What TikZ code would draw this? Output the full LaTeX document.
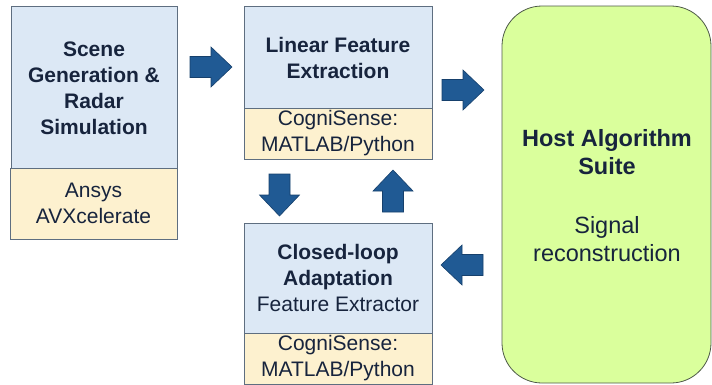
\documentclass[tikz,border=0pt]{standalone}
\usepackage{fontspec}
\setmainfont{Liberation Sans}
\definecolor{boxblue}{HTML}{DCE8F5}
\definecolor{boxbeige}{HTML}{FDF1CF}
\definecolor{boxline}{HTML}{5E6E80}
\definecolor{hostfill}{HTML}{DAFF9C}
\definecolor{hostline}{HTML}{4E5A48}
\definecolor{arrowfill}{HTML}{205A94}
\definecolor{arrowline}{HTML}{16406C}
\definecolor{ink}{HTML}{17243D}
\begin{document}
\begin{tikzpicture}[x=1pt,y=-1pt,
  base/.style={inner sep=0pt,outer sep=0pt,align=center,text=ink,
    font=\fontsize{21}{26}\selectfont,line width=0.8pt},
  bluebox/.style={base,draw=boxline,fill=boxblue},
  beigebox/.style={base,draw=boxline,fill=boxbeige},
  hostbox/.style={base,draw=hostline,fill=hostfill,rounded corners=40pt},
  txt/.style={base,draw=none,fill=none},
  blockarrow/.style={fill=arrowfill,draw=arrowline,line width=0.6pt}]
\useasboundingbox (0,0) rectangle (712,384);

% block arrow, pointing right, starting at the origin of the scope
\newcommand{\blockarr}[3]{%
  \begin{scope}[shift={(#1,#2)},rotate=#3]
    \path[blockarrow] (0,-10.5) -- (21,-10.5) -- (21,-20) -- (42,0)
      -- (21,20) -- (21,10.5) -- (0,10.5) -- cycle;
  \end{scope}}

% scene generation
\node[bluebox,minimum width=166,minimum height=162] (scene) at (94,87) {};
\node[beigebox,minimum width=167,minimum height=71] (ansys) at (93.5,203.5) {};
\node[txt] (scenet) at (94,88.5) {\bfseries Scene\\\bfseries Generation \&\\\bfseries Radar\\\bfseries Simulation};
\node[txt] (ansyst) at (ansys.center) {Ansys\\AVXcelerate};

% linear feature extraction
\node[bluebox,minimum width=188,minimum height=102] (lin) at (338,57) {};
\node[beigebox,minimum width=188,minimum height=51] (linsw) at (338,133.5) {};
\node[txt] (lint) at (338,58) {\bfseries Linear Feature\\\bfseries Extraction};
\node[txt] (linswt) at (linsw.center) {CogniSense:\\MATLAB/Python};

% closed-loop adaptation
\node[bluebox,minimum width=188,minimum height=110] (cla) at (338,278) {};
\node[beigebox,minimum width=188,minimum height=51] (clasw) at (338,358.5) {};
\node[txt] (clat) at (cla.center) {\bfseries Closed-loop\\\bfseries Adaptation\\Feature Extractor};
\node[txt] (claswt) at (clasw.center) {CogniSense:\\MATLAB/Python};

% host algorithm suite
\node[hostbox,minimum width=209,minimum height=377] (host) at (606.5,194.5) {};
\node[txt,font=\fontsize{23.5}{28}\selectfont] (hostt) at (607,196) {\bfseries Host Algorithm\\\bfseries Suite\\[31pt]Signal\\reconstruction};

% flow arrows
\blockarr{190}{67}{0}
\blockarr{442}{90}{0}
\blockarr{483}{265}{180}
\blockarr{279.5}{174}{-90}
\blockarr{393}{212}{90}
\end{tikzpicture}
\end{document}
